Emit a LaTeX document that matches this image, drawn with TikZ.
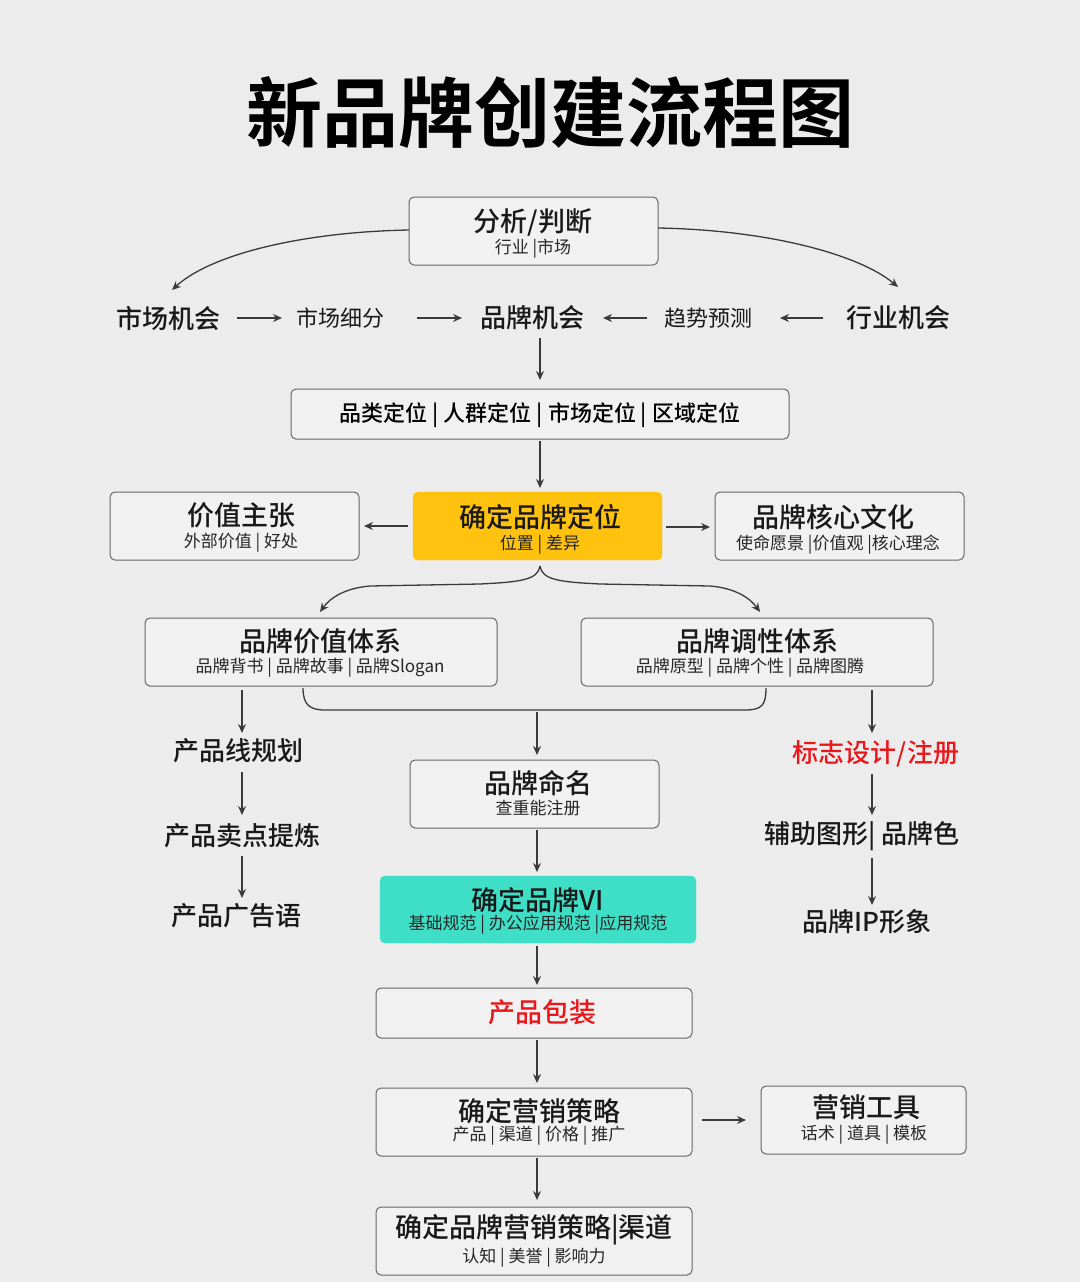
\documentclass[tikz,border=0pt]{standalone}
\usepackage{fontspec}
\setmainfont{Noto Sans CJK SC}
\newfontfamily\cjkb{Noto Sans CJK SC Medium}
\newfontfamily\cjkt{Noto Sans CJK SC Bold}
\usetikzlibrary{arrows.meta}
\definecolor{bg}{HTML}{ECECEC}
\definecolor{bx}{HTML}{F1F1F1}
\definecolor{ln}{HTML}{3A3A3A}
\definecolor{yel}{HTML}{FFC20E}
\definecolor{teal}{HTML}{3EDFC6}
\definecolor{rd}{HTML}{E8171C}
\tikzset{
 x=1pt,y=-1pt,
 boxs/.style={draw=gray!80!black,line width=1pt,rounded corners=5pt,fill=bx},
 arr/.style={draw=ln,line width=1.3pt,-{Stealth[length=9pt,width=8pt]}},
 big/.style={font=\fontsize{27}{29}\selectfont\cjkb,text=black!90,inner sep=0},
 sub/.style={font=\fontsize{17}{19}\selectfont,text=black!85,inner sep=0},
 lbl/.style={font=\fontsize{26}{28}\selectfont\cjkb,text=black!90,inner sep=0},
 sl/.style={font=\fontsize{22}{24}\selectfont,text=black!90,inner sep=0},
}
\begin{document}
\begin{tikzpicture}
\fill[bg] (0,0) rectangle (1080,1282);
\useasboundingbox (0,0) rectangle (1080,1282);
\node[font=\fontsize{76}{80}\selectfont\cjkt,inner sep=0] (title) at (550,113) {新品牌创建流程图};
\draw[boxs] (409,197) rectangle (658,265);
\node[big] (b1) at (533,222) {分析/判断};
\node[sub] (b1s) at (533,249) {行业 |市场};
\coordinate (b1l) at (409,230); \coordinate (b1r) at (658,228);
\node[lbl] (m1) at (168,318) {市场机会};
\node[sl] (m2) at (340,318) {市场细分};
\node[lbl] (m3) at (532,318) {品牌机会};
\node[sl] (m4) at (708,318) {趋势预测};
\node[lbl] (m5) at (898,318) {行业机会};
\draw[arr] (b1l) .. controls (300,232) and (210,255) .. (172,290);
\draw[arr] (b1r) .. controls (770,230) and (860,255) .. (898,287);
\draw[arr] (237,318) -- (282,318);
\draw[arr] (417,318) -- (462,318);
\draw[arr] (647,318) -- (603,318);
\draw[arr] (823,318) -- (780,318);
\draw[arr] (540,338) -- (540,380);
\draw[boxs] (291,389) rectangle (789,439);
\node[font=\fontsize{22}{24}\selectfont\cjkb,inner sep=0] (p) at (540,415) {品类定位 | 人群定位 | 市场定位 | 区域定位};
\draw[arr] (540,441) -- (540,488);
\draw[rounded corners=5pt,fill=yel,draw=yel] (413,492) rectangle (662,560);
\node[big] (y) at (540,517) {确定品牌定位};
\node[sub] (ys) at (540,545) {位置 | 差异};
\draw[boxs] (110,492) rectangle (359,560);
\node[big] (v) at (241,515) {价值主张};
\node[sub] (vs) at (241,543) {外部价值 | 好处};
\draw[boxs] (715,492) rectangle (964,560);
\node[big] (c) at (833,517) {品牌核心文化};
\node[sub] (cs) at (838,545) {使命愿景 |价值观 |核心理念};
\draw[arr] (408,526) -- (364,526);
\draw[arr] (666,527) -- (710,527);
\draw[arr] (540,566) .. controls (538,580) and (520,582) .. (480,584) -- (370,586) .. controls (345,588) and (330,598) .. (320,612);
\draw[arr] (540,566) .. controls (542,580) and (560,582) .. (600,584) -- (710,586) .. controls (735,588) and (750,598) .. (760,612);
\draw[boxs] (145,618) rectangle (497,686);
\node[big] (pv) at (320,641) {品牌价值体系};
\node[sub] (pvs) at (320,668) {品牌背书 | 品牌故事 | 品牌Slogan};
\draw[boxs] (581,618) rectangle (933,686);
\node[big] (pt) at (757,641) {品牌调性体系};
\node[sub] (pts) at (750,668) {品牌原型 | 品牌个性 | 品牌图腾};
\draw[draw=ln,line width=1.3pt] (303,688) .. controls (303,705) and (310,710) .. (325,710) -- (745,710) .. controls (762,710) and (766,705) .. (766,688);
\draw[arr] (537,712) -- (537,755);
\node[lbl] (l1) at (238,751) {产品线规划};
\node[lbl] (l2) at (242,836) {产品卖点提炼};
\node[lbl] (l3) at (236,916) {产品广告语};
\draw[arr] (242,690) -- (242,733);
\draw[arr] (242,772) -- (242,815);
\draw[arr] (242,856) -- (242,898);
\node[lbl,text=rd] (r1) at (876,754) {标志设计/注册};
\node[lbl] (r2) at (862,836) {辅助图形| 品牌色};
\node[lbl] (r3) at (867,922) {品牌IP形象};
\draw[arr] (872,690) -- (872,733);
\draw[arr] (872,774) -- (872,815);
\draw[arr] (872,858) -- (872,905);
\draw[boxs] (410,760) rectangle (659,828);
\node[big] (n) at (538,783) {品牌命名};
\node[sub] (ns) at (538,808) {查重能注册};
\draw[arr] (537,830) -- (537,872);
\draw[rounded corners=5pt,fill=teal,draw=teal] (380,876) rectangle (696,943);
\node[big] (vi) at (538,900) {确定品牌VI};
\node[sub] (vis) at (538,925) {基础规范 | 办公应用规范 |应用规范};
\draw[arr] (537,946) -- (537,985);
\draw[boxs] (376,988) rectangle (692,1038);
\node[big,text=rd] (pk) at (542,1012) {产品包装};
\draw[arr] (537,1040) -- (537,1083);
\draw[boxs] (376,1088) rectangle (692,1156);
\node[big] (mk) at (539,1111) {确定营销策略};
\node[sub] (mks) at (539,1136) {产品 | 渠道 | 价格 | 推广};
\draw[boxs] (761,1086) rectangle (966,1154);
\node[big] (mt) at (866,1107) {营销工具};
\node[sub] (mts) at (864,1135) {话术 | 道具 | 模板};
\draw[arr] (702,1120) -- (746,1120);
\draw[arr] (537,1158) -- (537,1200);
\draw[boxs] (376,1207) rectangle (692,1275);
\node[big] (fm) at (534,1230) {确定品牌营销策略|渠道};
\node[sub] (fms) at (534,1258) {认知 | 美誉 | 影响力};
\end{tikzpicture}
\end{document}
